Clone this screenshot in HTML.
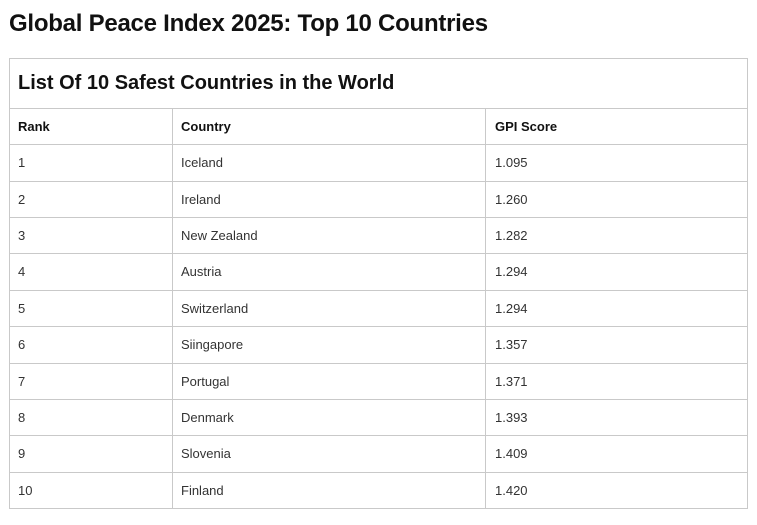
<!DOCTYPE html>
<html>
<head>
<meta charset="utf-8">
<style>
  html, body { margin:0; padding:0; background:#fff; }
  body { width:757px; height:525px; position:relative; overflow:hidden; font-family:"Liberation Sans", Arial, sans-serif; }
  .t { position:absolute; white-space:nowrap; }
  .title { left:9px; top:12px; font-size:24px; line-height:24px; font-weight:bold; color:#111; letter-spacing:-0.25px; }
  .cap { left:18px; top:73px; font-size:20px; line-height:20px; font-weight:bold; color:#111; }
  .h { font-size:13px; font-weight:bold; color:#111; line-height:36px; margin-top:1px; }
  .c { font-size:13px; color:#333; line-height:36px; margin-top:1px; }
  svg { position:absolute; left:0; top:0; }
</style>
</head>
<body>
<svg width="757" height="525">
  <g stroke="#c9c9c9" stroke-width="1" shape-rendering="crispEdges">
    <rect x="9.5" y="58.5" width="738" height="450" fill="none"/>
    <line x1="9" y1="108.5" x2="748" y2="108.5"/>
    <line x1="9" y1="144.5" x2="748" y2="144.5"/>
    <line x1="9" y1="181.5" x2="748" y2="181.5"/>
    <line x1="9" y1="217.5" x2="748" y2="217.5"/>
    <line x1="9" y1="253.5" x2="748" y2="253.5"/>
    <line x1="9" y1="290.5" x2="748" y2="290.5"/>
    <line x1="9" y1="326.5" x2="748" y2="326.5"/>
    <line x1="9" y1="363.5" x2="748" y2="363.5"/>
    <line x1="9" y1="399.5" x2="748" y2="399.5"/>
    <line x1="9" y1="435.5" x2="748" y2="435.5"/>
    <line x1="9" y1="472.5" x2="748" y2="472.5"/>
    <line x1="172.5" y1="108" x2="172.5" y2="509"/>
    <line x1="485.5" y1="108" x2="485.5" y2="509"/>
  </g>
</svg>

<div class="t title">Global Peace Index 2025: Top 10 Countries</div>
<div class="t cap">List Of 10 Safest Countries in the World</div>

<div class="t h" style="left:18px;top:108px;">Rank</div>
<div class="t h" style="left:181px;top:108px;">Country</div>
<div class="t h" style="left:495px;top:108px;">GPI Score</div>

<div class="t c" style="left:18px;top:144px;">1</div>
<div class="t c" style="left:181px;top:144px;">Iceland</div>
<div class="t c" style="left:495px;top:144px;">1.095</div>

<div class="t c" style="left:18px;top:181px;">2</div>
<div class="t c" style="left:181px;top:181px;">Ireland</div>
<div class="t c" style="left:495px;top:181px;">1.260</div>

<div class="t c" style="left:18px;top:217px;">3</div>
<div class="t c" style="left:181px;top:217px;">New Zealand</div>
<div class="t c" style="left:495px;top:217px;">1.282</div>

<div class="t c" style="left:18px;top:253px;">4</div>
<div class="t c" style="left:181px;top:253px;">Austria</div>
<div class="t c" style="left:495px;top:253px;">1.294</div>

<div class="t c" style="left:18px;top:290px;">5</div>
<div class="t c" style="left:181px;top:290px;">Switzerland</div>
<div class="t c" style="left:495px;top:290px;">1.294</div>

<div class="t c" style="left:18px;top:326px;">6</div>
<div class="t c" style="left:181px;top:326px;">Siingapore</div>
<div class="t c" style="left:495px;top:326px;">1.357</div>

<div class="t c" style="left:18px;top:363px;">7</div>
<div class="t c" style="left:181px;top:363px;">Portugal</div>
<div class="t c" style="left:495px;top:363px;">1.371</div>

<div class="t c" style="left:18px;top:399px;">8</div>
<div class="t c" style="left:181px;top:399px;">Denmark</div>
<div class="t c" style="left:495px;top:399px;">1.393</div>

<div class="t c" style="left:18px;top:435px;">9</div>
<div class="t c" style="left:181px;top:435px;">Slovenia</div>
<div class="t c" style="left:495px;top:435px;">1.409</div>

<div class="t c" style="left:18px;top:472px;">10</div>
<div class="t c" style="left:181px;top:472px;">Finland</div>
<div class="t c" style="left:495px;top:472px;">1.420</div>
</body>
</html>
